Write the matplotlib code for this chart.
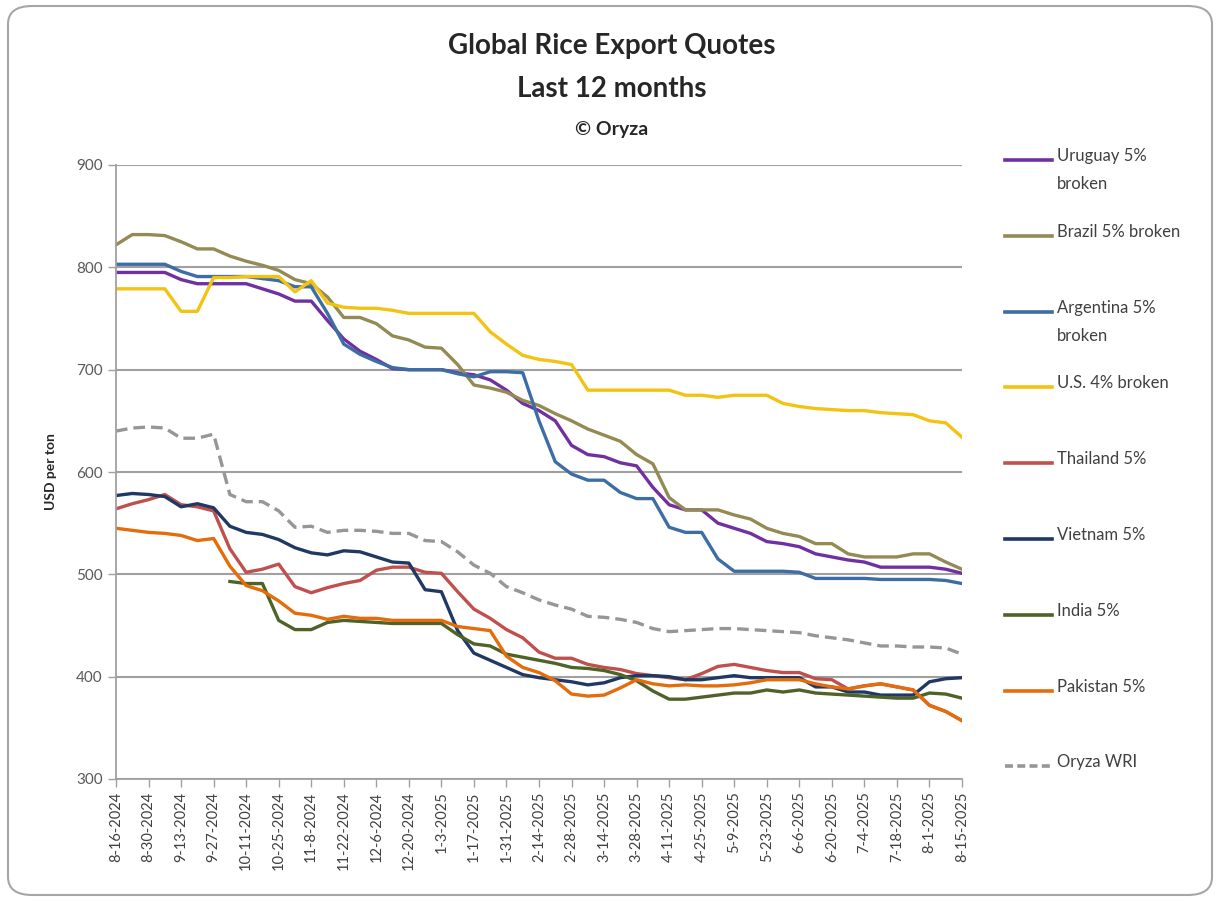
import matplotlib
matplotlib.use("Agg")
import matplotlib.pyplot as plt
import numpy as np
import pandas as pd
from matplotlib.patches import FancyBboxPatch
from matplotlib.lines import Line2D

plt.rcParams["font.family"] = ["Lato", "DejaVu Sans"]

nan = np.nan

# weekly quotes (Fridays), USD per ton
weeks = pd.date_range("2024-08-16", "2025-08-15", freq="7D")

uruguay = [795, 795, 795, 795, 788, 784, 784, 784, 784, 779, 774, 767, 767, 748, 730, 718, 710, 701,
           700, 700, 700, 697, 695, 690, 680, 667, 660, 650, 626, 617, 615, 609, 606, 585, 568, 563,
           563, 550, 545, 540, 532, 530, 527, 520, 517, 514, 512, 507, 507, 507, 507, 505, 501]
brazil = [822, 832, 832, 831, 825, 818, 818, 811, 806, 802, 797, 788, 784, 771, 751, 751, 745, 733,
          729, 722, 721, 705, 685, 682, 678, 670, 665, 657, 650, 642, 636, 630, 617, 608, 575, 563,
          563, 563, 558, 554, 545, 540, 537, 530, 530, 520, 517, 517, 517, 520, 520, 512, 505]
argentina = [803, 803, 803, 803, 796, 791, 791, 791, 791, 789, 787, 781, 781, 755, 725, 715, 708, 702,
             700, 700, 700, 696, 693, 698, 698, 697, 650, 610, 598, 592, 592, 580, 574, 574, 546, 541,
             541, 515, 503, 503, 503, 503, 502, 496, 496, 496, 496, 495, 495, 495, 495, 494, 491]
us = [779, 779, 779, 779, 757, 757, 790, 790, 791, 791, 791, 776, 787, 765, 761, 760, 760, 758,
      755, 755, 755, 755, 755, 737, 725, 714, 710, 708, 705, 680, 680, 680, 680, 680, 680, 675,
      675, 673, 675, 675, 675, 667, 664, 662, 661, 660, 660, 658, 657, 656, 650, 648, 634]
thailand = [564, 569, 573, 578, 568, 566, 562, 525, 502, 505, 510, 488, 482, 487, 491, 494, 504, 507,
            507, 502, 501, 483, 466, 457, 446, 438, 424, 418, 418, 412, 409, 407, 403, 401, 399, 397,
            403, 410, 412, 409, 406, 404, 404, 398, 397, 388, 391, 393, 390, 387, 372, 366, 357]
vietnam = [577, 579, 578, 576, 566, 569, 565, 547, 541, 539, 534, 526, 521, 519, 523, 522, 517, 512,
           511, 485, 483, 445, 423, 416, 409, 402, 399, 397, 395, 392, 394, 399, 401, 401, 400, 397,
           397, 399, 401, 399, 399, 399, 399, 390, 390, 385, 385, 382, 382, 382, 395, 398, 399]
india = [nan, nan, nan, nan, nan, nan, nan, 493, 491, 491, 455, 446, 446, 453, 455, 454, 453, 452,
         452, 452, 452, 441, 432, 430, 422, 419, 416, 413, 409, 408, 406, 402, 396, 386, 378, 378,
         380, 382, 384, 384, 387, 385, 387, 384, 383, 382, 381, 380, 379, 379, 384, 383, 379]
pakistan = [545, 543, 541, 540, 538, 533, 535, 508, 489, 484, 474, 462, 460, 456, 459, 457, 457, 455,
            455, 455, 455, 449, 447, 445, 420, 409, 404, 396, 383, 381, 382, 389, 397, 393, 391, 392,
            391, 391, 392, 394, 397, 397, 397, 393, 390, 388, 391, 393, 390, 387, 372, 366, 357]
wri = [640, 643, 644, 643, 633, 633, 637, 578, 571, 571, 562, 546, 547, 541, 543, 543, 542, 540,
       540, 533, 532, 522, 509, 501, 488, 482, 475, 470, 466, 459, 458, 456, 453, 447, 444, 445,
       446, 447, 447, 446, 445, 444, 443, 440, 438, 436, 433, 430, 430, 429, 429, 428, 422]

labels = ["Uruguay 5%\nbroken", "Brazil 5% broken", "Argentina 5%\nbroken", "U.S. 4% broken",
          "Thailand 5%", "Vietnam 5%", "India 5%", "Pakistan 5%", "Oryza WRI"]
colors = ["#7030A0", "#948A54", "#3D6DA5", "#F2C311", "#C0504D", "#1F3864", "#4F6228",
          "#E46C0A", "#969696"]
series = [uruguay, brazil, argentina, us, thailand, vietnam, india, pakistan, wri]

tick_labels = ["8-16-2024", "8-30-2024", "9-13-2024", "9-27-2024", "10-11-2024", "10-25-2024",
               "11-8-2024", "11-22-2024", "12-6-2024", "12-20-2024", "1-3-2025", "1-17-2025",
               "1-31-2025", "2-14-2025", "2-28-2025", "3-14-2025", "3-28-2025", "4-11-2025",
               "4-25-2025", "5-9-2025", "5-23-2025", "6-6-2025", "6-20-2025", "7-4-2025",
               "7-18-2025", "8-1-2025", "8-15-2025"]
tick_dates = pd.to_datetime(tick_labels, format="%m-%d-%Y")

W, H = 1217, 901
fig = plt.figure(figsize=(W / 100, H / 100), dpi=100)
fig.patch.set_facecolor("white")

# rounded frame round the whole chart
frame = FancyBboxPatch((8 / W, 6 / H), 1204 / W, 889 / H,
                       boxstyle="round,pad=0,rounding_size=0.02",
                       transform=fig.transFigure, facecolor="none",
                       edgecolor="#A6A6A6", linewidth=1.5, zorder=-1)
fig.patches.append(frame)

ax = fig.add_axes([116 / W, 1 - 779 / H, (962 - 116) / W, (779 - 165) / H])
ax.set_facecolor("none")

for vals, lab, col in zip(series, labels, colors):
    ls = (0, (3.5, 1.8)) if lab == "Oryza WRI" else "-"
    ax.plot(weeks, vals, color=col, lw=2.4, ls=ls, solid_joinstyle="round")

ax.set_ylim(300, 900)
ax.set_yticks([300, 400, 500, 600, 700, 800, 900])
ax.set_xlim(tick_dates[0], tick_dates[-1])
ax.set_xticks(tick_dates)
ax.set_xticklabels(tick_labels, rotation=90, fontsize=10.5, color="#404040")
ax.tick_params(axis="y", labelsize=11, colors="#595959", length=6, width=1, direction="out")
ax.tick_params(axis="x", length=6, width=1, color="#A0A0A0", direction="out", pad=3)
ax.tick_params(axis="y", color="#A0A0A0")
ax.grid(axis="y", color="#A0A0A0", lw=1.5)
ax.set_axisbelow(True)
for side in ["top", "right"]:
    ax.spines[side].set_visible(False)
for side in ["left", "bottom"]:
    ax.spines[side].set_color("#A0A0A0")
    ax.spines[side].set_linewidth(1.3)
ax.set_ylabel("USD per ton", fontsize=10, fontweight="bold", color="#262626", labelpad=14)

fig.text(612 / W, 1 - 46 / H, "Global Rice Export Quotes", ha="center", va="center",
         fontsize=20, fontweight="bold", color="#262626")
fig.text(612 / W, 1 - 89 / H, "Last 12 months", ha="center", va="center",
         fontsize=20, fontweight="bold", color="#262626")
fig.text(612 / W, 1 - 129 / H, "© Oryza", ha="center", va="center",
         fontsize=14, fontweight="bold", color="#262626")

# legend drawn down the right side, one slot per series
for k, (lab, col) in enumerate(zip(labels, colors)):
    y = 1 - (160 + k * 75.8) / H
    ls = (0, (2.2, 1.2)) if lab == "Oryza WRI" else "-"
    fig.add_artist(Line2D([1005 / W, 1052 / W], [y, y], color=col, lw=2.6, ls=ls,
                          transform=fig.transFigure))
    fig.text(1057 / W, y + 12 / H, lab, ha="left", va="top", fontsize=12,
             color="#404040", linespacing=1.95)

fig.savefig("out.png", dpi=100)
